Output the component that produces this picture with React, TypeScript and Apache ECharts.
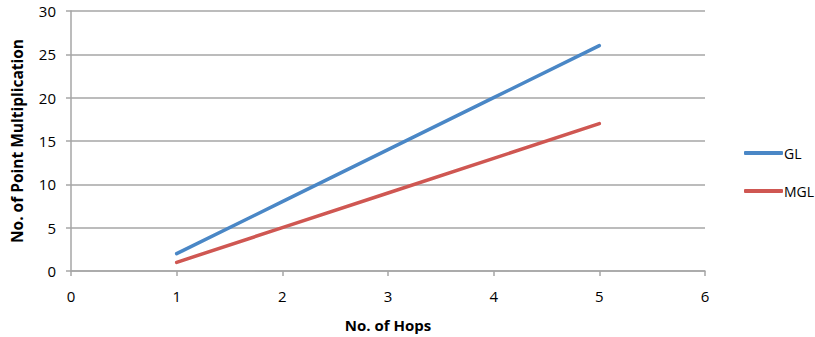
import React, { useEffect, useRef } from "react";
import * as echarts from "echarts";

const hops = [1, 2, 3, 4, 5];
const glValues = [2, 8, 14, 20, 26];
const mglValues = [1, 5, 9, 13, 17];
const seriesNames = ["GL", "MGL"];

export default function App() {
  const ref = useRef<HTMLDivElement>(null);
  useEffect(() => {
    const chart = echarts.init(ref.current!, null, { renderer: "svg" });
    const font = "'Open Sans', sans-serif";
    chart.setOption({
      animation: false,
      textStyle: { fontFamily: font },
      grid: { left: 71, right: 110, top: 11, bottom: 66, containLabel: false, outerBoundsMode: "none" },
      legend: {
        orient: "vertical",
        left: 739,
        top: 141,
        itemWidth: 39,
        itemHeight: 4,
        itemGap: 24,
        icon: "roundRect",
        textStyle: { fontSize: 14, color: "#000", fontFamily: font, padding: [0, 0, 0, -4] },
        data: seriesNames,
      },
      xAxis: {
        type: "value",
        min: 0,
        max: 6,
        interval: 1,
        name: "No. of Hops",
        nameLocation: "middle",
        nameGap: 46,
        nameTextStyle: { fontSize: 15, fontWeight: "bold", color: "#000" },
        axisLine: { show: true, lineStyle: { color: "#a6a6a6", width: 1.5 } },
        axisTick: { show: true, length: 5, lineStyle: { color: "#a6a6a6", width: 1.5 } },
        axisLabel: { fontSize: 15, color: "#000", margin: 17 },
        splitLine: { show: false },
      },
      yAxis: {
        type: "value",
        min: 0,
        max: 30,
        interval: 5,
        name: "No. of Point Multiplication",
        nameLocation: "middle",
        nameGap: 46,
        nameTextStyle: { fontSize: 15.5, fontWeight: "bold", color: "#000" },
        axisLine: { show: true, lineStyle: { color: "#a6a6a6", width: 1.5 } },
        axisTick: { show: true, length: 5, lineStyle: { color: "#a6a6a6", width: 1.5 } },
        axisLabel: { fontSize: 15, color: "#000", margin: 15 },
        splitLine: { show: true, lineStyle: { color: "#a6a6a6", width: 1.5 } },
      },
      series: [
        {
          name: seriesNames[0],
          type: "line",
          data: hops.map((h, i) => [h, glValues[i]]),
          showSymbol: false,
          symbol: "none",
          lineStyle: { color: "#4a87c6", width: 3.5, cap: "round" },
          itemStyle: { color: "#4a87c6" },
        },
        {
          name: seriesNames[1],
          type: "line",
          data: hops.map((h, i) => [h, mglValues[i]]),
          showSymbol: false,
          symbol: "none",
          lineStyle: { color: "#cf5752", width: 3.5, cap: "round" },
          itemStyle: { color: "#cf5752" },
        },
      ],
    });
    return () => chart.dispose();
  }, []);
  return (
    <div
      ref={ref}
      style={{ position: "absolute", left: 0, top: 0, width: 815, height: 337 }}
    />
  );
}
